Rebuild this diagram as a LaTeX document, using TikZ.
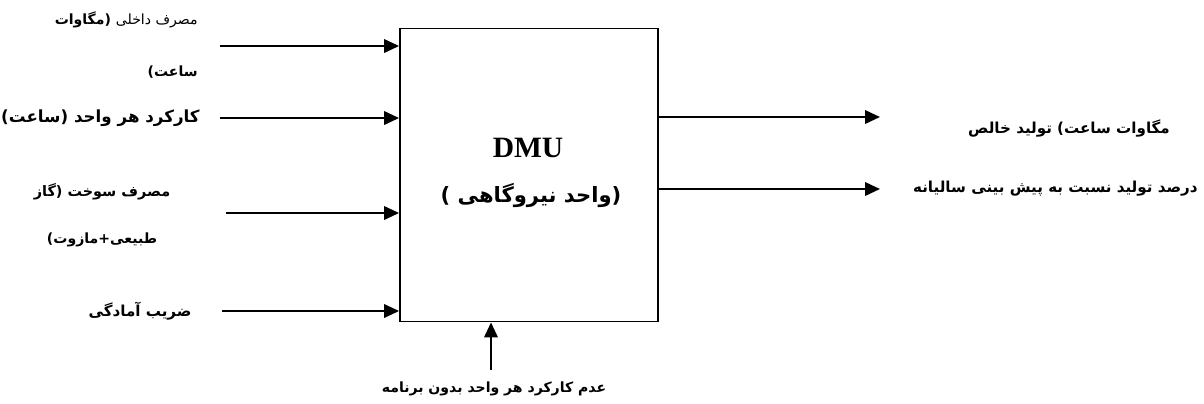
\documentclass[tikz,border=0pt]{standalone}
\usepackage{fontspec}
\setmainfont{Liberation Serif}
\newfontfamily\fa[Script=Arabic]{DejaVu Sans}
\TeXXeTstate=1
\usetikzlibrary{arrows.meta}
\newcommand{\fasz}[1]{\fa\bfseries\fontsize{#1}{#1}\selectfont}
\tikzset{
  arr/.style={line width=1.2pt,-{Triangle[length=0.3cm,width=0.27cm]}},
  lbl/.style={font=\fasz{8.6},inner sep=0pt},
  box/.style={draw,line width=1.1pt,minimum width=5.16cm,minimum height=5.86cm,inner sep=0pt}
}
\begin{document}
\begin{tikzpicture}[x=0.02cm,y=-0.02cm]
\useasboundingbox (0,0) rectangle (1204,403);
\node[box] (dmu) at (529,175) {};
\node[font=\bfseries\fontsize{16.8}{20}\selectfont,inner sep=0pt] (t1) at (528,148) {DMU};
\node[lbl,font=\fasz{12}] (t2) at (531,195) {\beginR(واحد نیروگاهی )\endR};
% inputs
\coordinate (a1) at (220,46);
\coordinate (a2) at (220,118);
\coordinate (a3) at (226,213);
\coordinate (a4) at (222,311);
\coordinate (b1) at (491,370);
\coordinate (o1) at (880,117);
\coordinate (o2) at (880,189);
\draw[arr] (a1) -- (a1 -| dmu.west);
\draw[arr] (a2) -- (a2 -| dmu.west);
\draw[arr] (a3) -- (a3 -| dmu.west);
\draw[arr] (a4) -- (a4 -| dmu.west);
\draw[arr] (b1) -- (b1 |- dmu.south);
\draw[arr] (o1 -| dmu.east) -- (o1);
\draw[arr] (o2 -| dmu.east) -- (o2);
% labels
\node[lbl,font=\fasz{8},anchor=east] (l1) at (198,20) {\beginR{\mdseries مصرف داخلی} (مگاوات\endR};
\node[lbl,font=\fasz{8},anchor=east] (l1b) at (198,72) {\beginR ساعت)\endR};
\node[lbl,font=\fasz{9.5},anchor=east] (l2) at (200,118) {\beginR کارکرد هر واحد (ساعت)\endR};
\node[lbl,font=\fasz{8.2}] (l3) at (102,192) {\beginR مصرف سوخت (گاز\endR};
\node[lbl,font=\fasz{8}] (l3b) at (102,240) {\beginR طبیعی+مازوت)\endR};
\node[lbl] (l4) at (140,311) {\beginR ضریب آمادگی\endR};
\node[lbl,font=\fasz{8}] (l5) at (494,389) {\beginR عدم کارکرد هر واحد بدون برنامه\endR};
\node[lbl] (r1) at (1069,128) {\beginR مگاوات ساعت) تولید خالص\endR};
\node[lbl,anchor=east] (r2) at (1198,189) {\beginR درصد تولید نسبت به پیش بینی سالیانه\endR};
\end{tikzpicture}
\end{document}
